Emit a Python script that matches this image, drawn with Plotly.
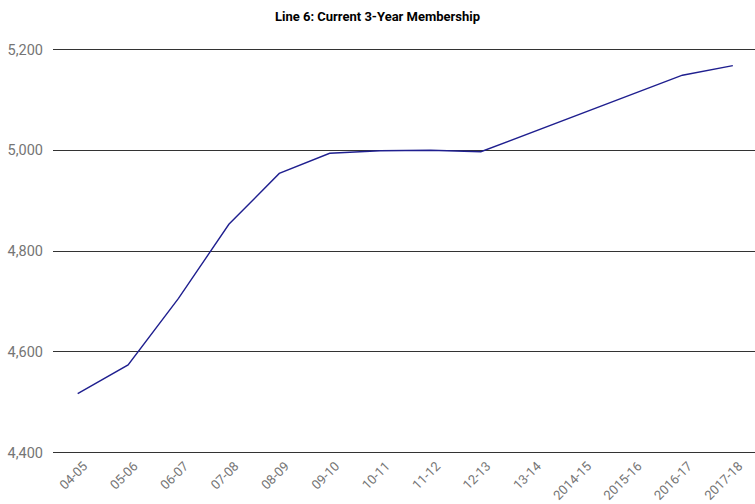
import plotly.graph_objects as go

categories = ["04-05", "05-06", "06-07", "07-08", "08-09", "09-10", "10-11", "11-12",
              "12-13", "13-14", "2014-15", "2015-16", "2016-17", "2017-18"]
membership = [4517, 4574, 4706, 4853, 4954, 4994, 4999, 5000, 4997, 5035, 5073, 5111, 5149, 5168]
y_ticks = [4400, 4600, 4800, 5000, 5200]

fig = go.Figure()
fig.add_trace(go.Scatter(x=list(range(len(categories))), y=membership, mode="lines",
                         line=dict(color="#1f1f8f", width=1.4), hoverinfo="skip"))

fig.update_layout(
    width=755, height=504,
    margin=dict(l=53, r=0, t=47, b=49, autoexpand=False),
    paper_bgcolor="white", plot_bgcolor="white",
    showlegend=False,
    title=dict(text="<b>Line 6: Current 3-Year Membership</b>", x=0.5, xanchor="center",
               y=0.968, yanchor="middle", font=dict(family="Roboto", size=13, color="#000")),
    font=dict(family="Roboto", color="#757575", size=14),
)
fig.update_xaxes(tickmode="array", tickvals=list(range(len(categories))), ticktext=categories,
                 tickangle=-45, range=[-0.49, 13.44], showgrid=False, zeroline=False,
                 showline=False, ticks="", ticklabelstandoff=0, ticklabelshift=6,
                 automargin=False, tickfont=dict(size=13, color="#757575"))
fig.update_yaxes(range=[4395, 5205], tickvals=y_ticks, tickformat=",d", showgrid=True,
                 gridcolor="#333", gridwidth=1, zeroline=False, showline=False, ticks="",
                 ticklabelstandoff=9, automargin=False,
                 tickfont=dict(size=14.5, color="#757575"))
fig.write_html("out.html")
